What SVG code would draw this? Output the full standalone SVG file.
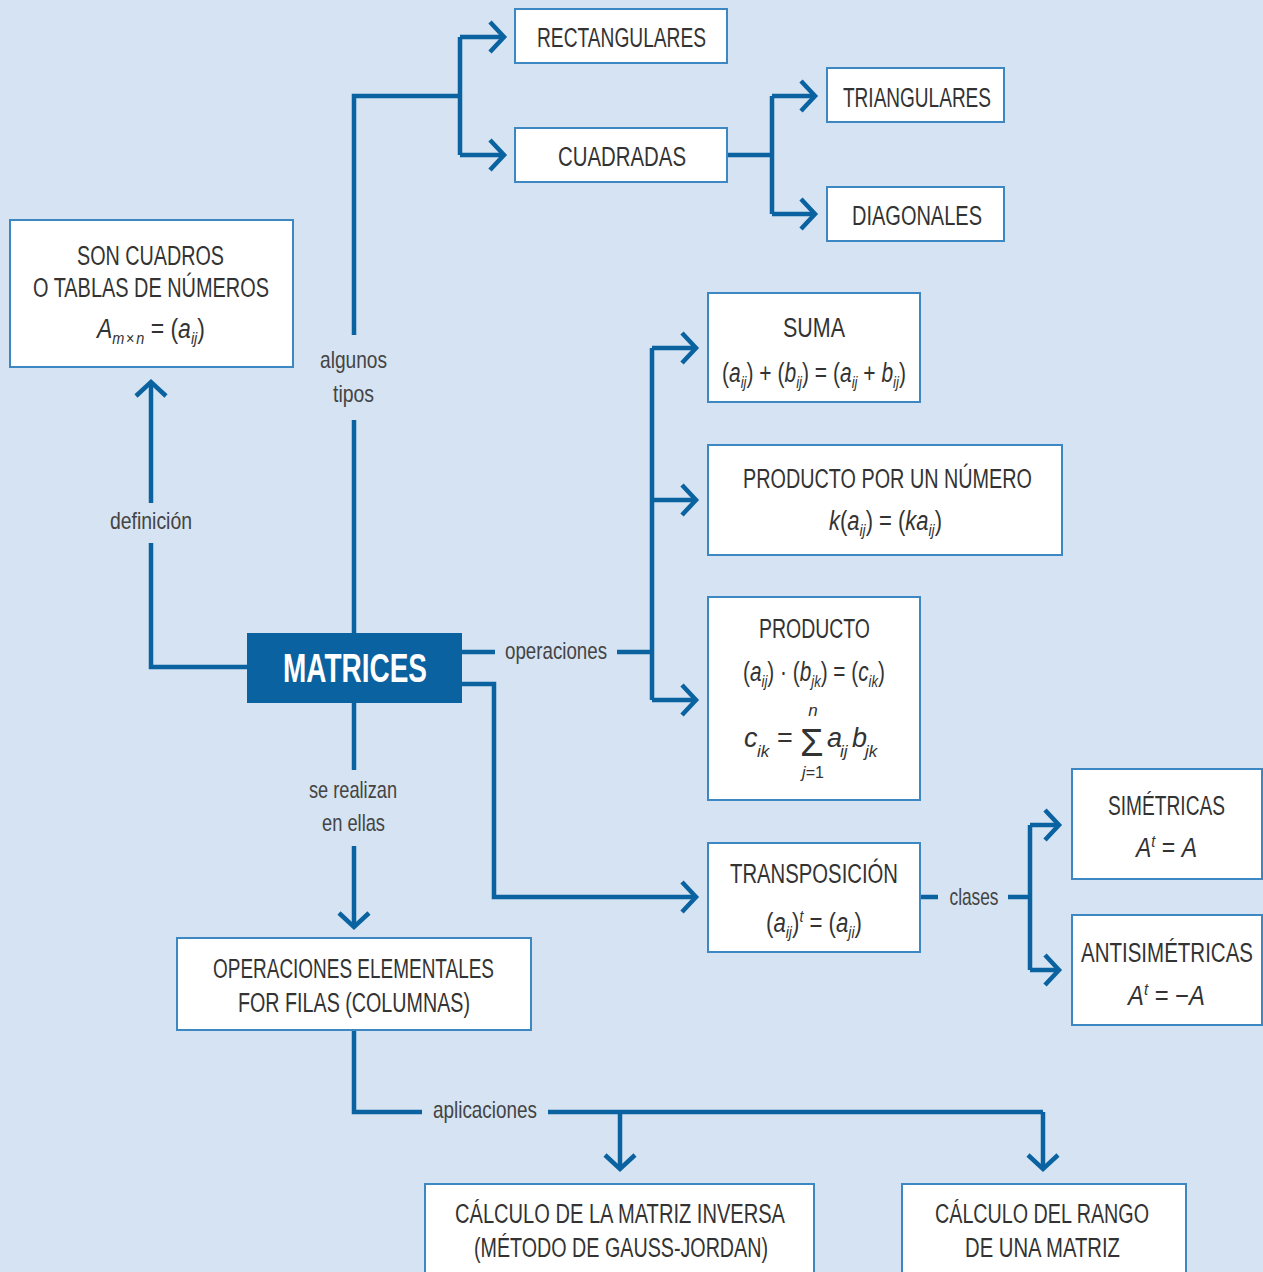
<svg xmlns="http://www.w3.org/2000/svg" width="1263" height="1272" viewBox="0 0 1263 1272">
<defs>
<style>
.bx{fill:#fff;stroke:#3d87c3;stroke-width:2}
.t{font-family:"Liberation Sans",Arial,sans-serif;font-size:27px;fill:#333}
.m{text-anchor:middle}
.lb{font-family:"Liberation Sans",Arial,sans-serif;font-size:24px;fill:#444;text-anchor:middle}
.i{font-style:italic}
.s{font-size:17px;font-style:italic}
.c{fill:none;stroke:#0a62a0;stroke-width:4.5;stroke-linejoin:miter}
.a{marker-end:url(#ah)}
</style>
<marker id="ah" markerUnits="userSpaceOnUse" viewBox="-20 -20 24 40" markerWidth="24" markerHeight="40" refX="0" refY="0" orient="auto">
<path d="M-14,-15 L0,0 L-14,15" fill="none" stroke="#0a62a0" stroke-width="4.5"/>
</marker>
</defs>
<rect width="1263" height="1272" fill="#d5e3f2"/>
<g id="connectors">
<path class="c" d="M354,633 V420 M354,335 V96 H460 M460,37 V155"/>
<path class="c a" d="M460,37 H504"/>
<path class="c a" d="M460,155 H504"/>
<path class="c" d="M727,155 H772 M772,96 V214"/>
<path class="c a" d="M772,96 H815"/>
<path class="c a" d="M772,214 H815"/>
<path class="c" d="M247,667 H151 V543"/>
<path class="c a" d="M151,503 V382"/>
<path class="c" d="M462,652 H495 M617,652 H652 M652,348 V700"/>
<path class="c a" d="M652,348 H696"/>
<path class="c a" d="M652,500 H696"/>
<path class="c a" d="M652,700 H696"/>
<path class="c a" d="M462,684 H494 V897 H696"/>
<path class="c" d="M354,703 V770"/>
<path class="c a" d="M354,846 V927"/>
<path class="c" d="M920,897 H938 M1008,897 H1030 M1030,825 V970"/>
<path class="c a" d="M1030,825 H1059"/>
<path class="c a" d="M1030,970 H1059"/>
<path class="c" d="M354,1030 V1112 H422 M548,1112 H1043"/>
<path class="c a" d="M620,1112 V1169"/>
<path class="c a" d="M1043,1112 V1169"/>
<text class="lb" x="353.5" y="368" textLength="67" lengthAdjust="spacingAndGlyphs">algunos</text>
<text class="lb" x="353.5" y="402" textLength="41" lengthAdjust="spacingAndGlyphs">tipos</text>
<text class="lb" x="151" y="529" textLength="82" lengthAdjust="spacingAndGlyphs">definición</text>
<text class="lb" x="556" y="659" textLength="102" lengthAdjust="spacingAndGlyphs">operaciones</text>
<text class="lb" x="353" y="798" textLength="88" lengthAdjust="spacingAndGlyphs">se realizan</text>
<text class="lb" x="353.5" y="831" textLength="63" lengthAdjust="spacingAndGlyphs">en ellas</text>
<text class="lb" x="974" y="905" textLength="49" lengthAdjust="spacingAndGlyphs">clases</text>
<text class="lb" x="485" y="1118" textLength="104" lengthAdjust="spacingAndGlyphs">aplicaciones</text>
</g>
<g id="rectangulares">
<rect class="bx" x="515" y="9" width="212" height="54"/>
<text class="t m" x="621.5" y="47" textLength="169" lengthAdjust="spacingAndGlyphs">RECTANGULARES</text>
</g>
<g id="cuadradas">
<rect class="bx" x="515" y="128" width="212" height="54"/>
<text class="t m" x="622" y="166" textLength="128" lengthAdjust="spacingAndGlyphs">CUADRADAS</text>
</g>
<g id="triangulares">
<rect class="bx" x="827" y="68" width="177" height="54"/>
<text class="t m" x="917" y="107" textLength="148" lengthAdjust="spacingAndGlyphs">TRIANGULARES</text>
</g>
<g id="diagonales">
<rect class="bx" x="827" y="187" width="177" height="54"/>
<text class="t m" x="917" y="225" textLength="130" lengthAdjust="spacingAndGlyphs">DIAGONALES</text>
</g>
<g id="definicion">
<rect class="bx" x="10" y="220" width="283" height="147"/>
<text class="t m" x="150.5" y="265" textLength="147" lengthAdjust="spacingAndGlyphs">SON CUADROS</text>
<text class="t m" x="151" y="297" textLength="236" lengthAdjust="spacingAndGlyphs">O TABLAS DE NÚMEROS</text>
<text class="t" x="97" y="338" textLength="108" lengthAdjust="spacingAndGlyphs"><tspan class="i">A</tspan><tspan class="s" dy="6">m</tspan><tspan style="font-size:17px" dx="2">×</tspan><tspan class="s" dx="2">n</tspan><tspan dy="-6"> = (</tspan><tspan class="i">a</tspan><tspan class="s" dy="6">ij</tspan><tspan dy="-6">)</tspan></text>
</g>
<g id="matrices">
<rect x="247" y="633" width="215" height="70" fill="#0a62a0"/>
<text x="355" y="682" font-family="Liberation Sans, Arial, sans-serif" font-size="40" font-weight="bold" fill="#fff" text-anchor="middle" textLength="144" lengthAdjust="spacingAndGlyphs">MATRICES</text>
</g>
<g id="suma">
<rect class="bx" x="708" y="293" width="212" height="109"/>
<text class="t m" x="814" y="337" textLength="62" lengthAdjust="spacingAndGlyphs">SUMA</text>
<text class="t" x="722" y="382" textLength="184" lengthAdjust="spacingAndGlyphs">(<tspan class="i">a</tspan><tspan class="s" dy="6">ij</tspan><tspan dy="-6">) + (</tspan><tspan class="i">b</tspan><tspan class="s" dy="6">ij</tspan><tspan dy="-6">) = (</tspan><tspan class="i">a</tspan><tspan class="s" dy="6">ij</tspan><tspan dy="-6"> + </tspan><tspan class="i">b</tspan><tspan class="s" dy="6">ij</tspan><tspan dy="-6">)</tspan></text>
</g>
<g id="producto-numero">
<rect class="bx" x="708" y="445" width="354" height="110"/>
<text class="t m" x="887.5" y="488" textLength="289" lengthAdjust="spacingAndGlyphs">PRODUCTO POR UN NÚMERO</text>
<text class="t" x="829" y="530" textLength="113" lengthAdjust="spacingAndGlyphs"><tspan class="i">k</tspan>(<tspan class="i">a</tspan><tspan class="s" dy="6">ij</tspan><tspan dy="-6">) = (</tspan><tspan class="i">ka</tspan><tspan class="s" dy="6">ij</tspan><tspan dy="-6">)</tspan></text>
</g>
<g id="producto">
<rect class="bx" x="708" y="597" width="212" height="203"/>
<text class="t m" x="814.5" y="638" textLength="111" lengthAdjust="spacingAndGlyphs">PRODUCTO</text>
<text class="t" x="743" y="681" textLength="142" lengthAdjust="spacingAndGlyphs">(<tspan class="i">a</tspan><tspan class="s" dy="6">ij</tspan><tspan dy="-6">) · (</tspan><tspan class="i">b</tspan><tspan class="s" dy="6">jk</tspan><tspan dy="-6">) = (</tspan><tspan class="i">c</tspan><tspan class="s" dy="6">ik</tspan><tspan dy="-6">)</tspan></text>
<text class="t i" x="744" y="747">c</text>
<text class="t s" x="757" y="757">ik</text>
<text class="t" x="777" y="747">=</text>
<text class="t" x="800" y="756" style="font-size:38px">Σ</text>
<text class="t s m" x="813" y="716">n</text>
<text class="t m" x="813" y="778" style="font-size:16px"><tspan class="i" style="font-size:16px">j</tspan>=1</text>
<text class="t i" x="827" y="747">a</text>
<text class="t s" x="840" y="757">ij</text>
<text class="t i" x="852" y="747">b</text>
<text class="t s" x="865" y="757">jk</text>
</g>
<g id="transposicion">
<rect class="bx" x="708" y="843" width="212" height="109"/>
<text class="t m" x="814" y="883" textLength="168" lengthAdjust="spacingAndGlyphs">TRANSPOSICIÓN</text>
<text class="t" x="766" y="932" textLength="96" lengthAdjust="spacingAndGlyphs">(<tspan class="i">a</tspan><tspan class="s" dy="6">ij</tspan><tspan dy="-6">)</tspan><tspan class="s" dy="-10">t</tspan><tspan dy="10"> = (</tspan><tspan class="i">a</tspan><tspan class="s" dy="6">ji</tspan><tspan dy="-6">)</tspan></text>
</g>
<g id="simetricas">
<rect class="bx" x="1072" y="769" width="190" height="110"/>
<text class="t m" x="1166.5" y="815" textLength="117" lengthAdjust="spacingAndGlyphs">SIMÉTRICAS</text>
<text class="t" x="1136" y="857" textLength="61" lengthAdjust="spacingAndGlyphs"><tspan class="i">A</tspan><tspan class="s" dy="-10">t</tspan><tspan dy="10"> = </tspan><tspan class="i">A</tspan></text>
</g>
<g id="antisimetricas">
<rect class="bx" x="1072" y="915" width="190" height="110"/>
<text class="t m" x="1167" y="962" textLength="172" lengthAdjust="spacingAndGlyphs">ANTISIMÉTRICAS</text>
<text class="t" x="1128" y="1005" textLength="77" lengthAdjust="spacingAndGlyphs"><tspan class="i">A</tspan><tspan class="s" dy="-10">t</tspan><tspan dy="10"> = −</tspan><tspan class="i">A</tspan></text>
</g>
<g id="operaciones-elementales">
<rect class="bx" x="177" y="938" width="354" height="92"/>
<text class="t m" x="353.5" y="978" textLength="281" lengthAdjust="spacingAndGlyphs">OPERACIONES ELEMENTALES</text>
<text class="t m" x="354" y="1012" textLength="232" lengthAdjust="spacingAndGlyphs">FOR FILAS (COLUMNAS)</text>
</g>
<g id="inversa">
<rect class="bx" x="425" y="1184" width="389" height="100"/>
<text class="t m" x="620" y="1223" textLength="330" lengthAdjust="spacingAndGlyphs">CÁLCULO DE LA MATRIZ INVERSA</text>
<text class="t m" x="621" y="1257" textLength="294" lengthAdjust="spacingAndGlyphs">(MÉTODO DE GAUSS-JORDAN)</text>
</g>
<g id="rango">
<rect class="bx" x="902" y="1184" width="284" height="100"/>
<text class="t m" x="1042" y="1223" textLength="214" lengthAdjust="spacingAndGlyphs">CÁLCULO DEL RANGO</text>
<text class="t m" x="1042.5" y="1257" textLength="155" lengthAdjust="spacingAndGlyphs">DE UNA MATRIZ</text>
</g>
</svg>
